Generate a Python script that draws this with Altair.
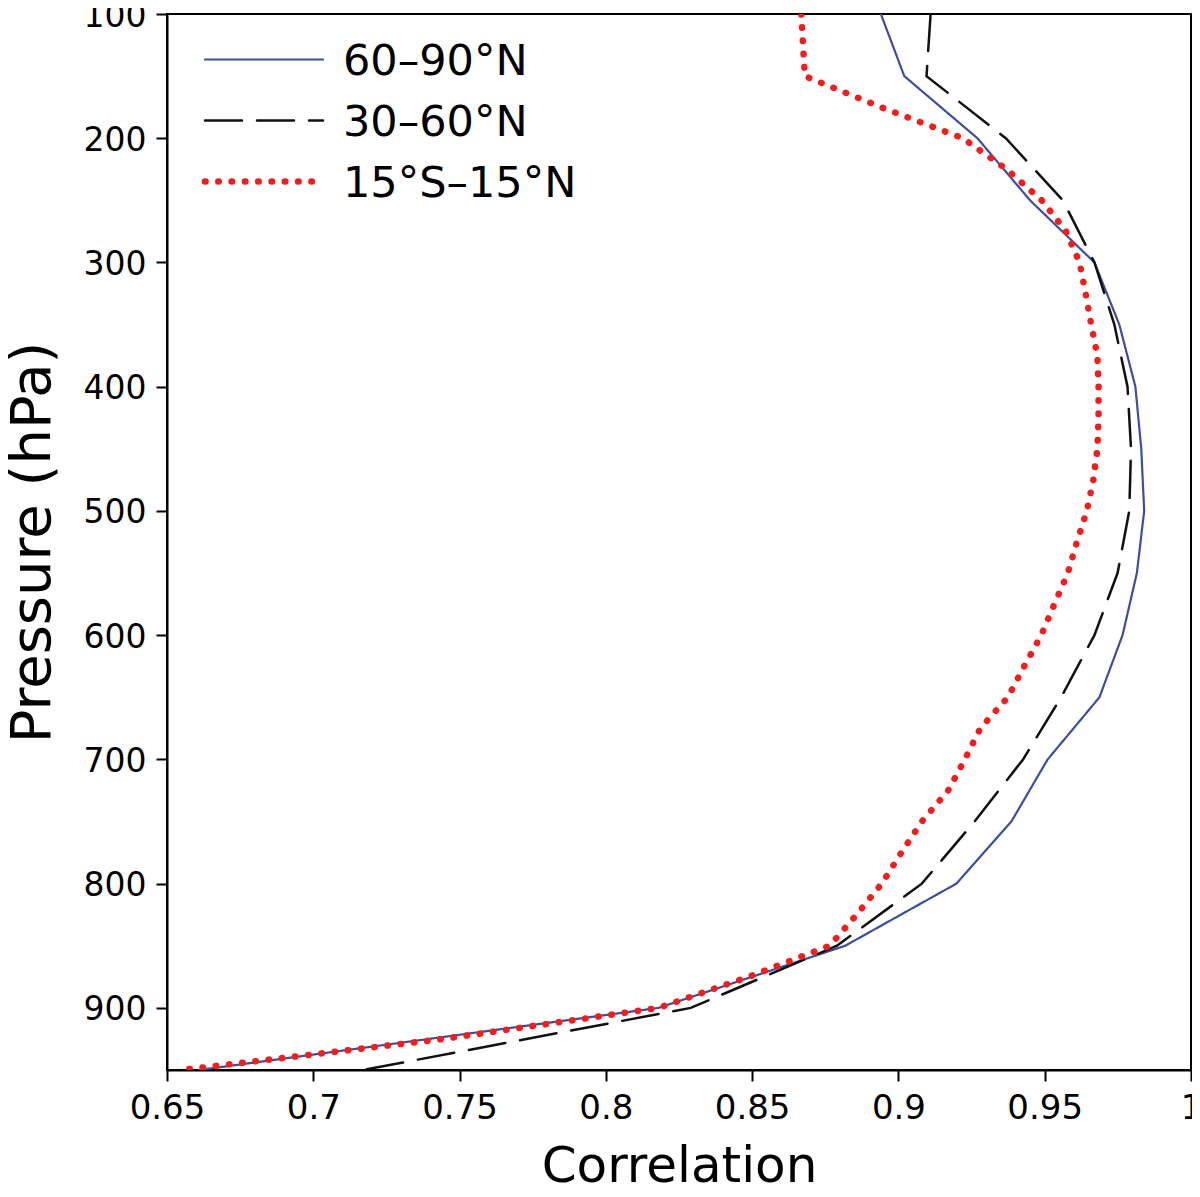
import altair as alt
import pandas as pd

# ---- data ----
series_names = ["60–90°N", "30–60°N", "15°S–15°N"]

levels = [100, 150, 200, 250, 300, 350, 400, 450, 500, 550, 600, 650, 700, 750, 800, 850, 900, 950]
arctic_vals = [0.894, 0.902, 0.927, 0.945, 0.967, 0.9755, 0.981, 0.983, 0.984, 0.9815, 0.9766, 0.9687,
               0.951, 0.9386, 0.9198, 0.8818, 0.818, 0.661]
midlat_vals = [0.911, 0.9096, 0.9367, 0.9562, 0.967, 0.9738, 0.9783, 0.9795, 0.9789, 0.9749, 0.967, 0.9556,
               0.9426, 0.926, 0.908, 0.879, 0.829, 0.717]

trop_levels = [100, 150, 175, 200, 225, 250, 275, 300, 325, 350, 375, 400, 425, 450, 475, 500, 525, 550,
               575, 600, 625, 650, 675, 700, 725, 750, 775, 800, 825, 850, 875, 900, 925, 950]
trop_vals = [0.8668, 0.868, 0.894, 0.922, 0.937, 0.949, 0.9573, 0.9619, 0.964, 0.9659, 0.968, 0.9684,
             0.9684, 0.968, 0.9666, 0.9644, 0.961, 0.9579, 0.9533, 0.9488, 0.943, 0.9374, 0.928, 0.9227,
             0.917, 0.908, 0.901, 0.8943, 0.8857, 0.8765, 0.8488, 0.818, 0.7444, 0.655]

x_ticks = [0.65, 0.7, 0.75, 0.8, 0.85, 0.9, 0.95, 1.0]
y_ticks = [100, 200, 300, 400, 500, 600, 700, 800, 900]

rows = []
for p, v in zip(levels, arctic_vals):
    rows.append({"series": series_names[0], "p": p, "r": v})
for p, v in zip(levels, midlat_vals):
    rows.append({"series": series_names[1], "p": p, "r": v})
for p, v in zip(trop_levels, trop_vals):
    rows.append({"series": series_names[2], "p": p, "r": v})
df = pd.DataFrame(rows)
leg_df = pd.DataFrame({"series": series_names, "row": [0, 1, 2]})

FONT = "DejaVu Sans"

color_scale = alt.Scale(domain=series_names, range=["#3B4FA0", "#111111", "#F51C1C"])
dash_scale = alt.Scale(domain=series_names, range=[[1, 0], [37, 15], [0.5, 12.8]])
width_scale = alt.Scale(type="ordinal", domain=series_names, range=[2.2, 2.5, 6.5])

lines = alt.Chart(df).mark_line(strokeCap="round", clip=True).encode(
    x=alt.X("r:Q", title="Correlation",
            scale=alt.Scale(domain=[0.65, 1.0], nice=False, zero=False),
            axis=alt.Axis(values=x_ticks, format=".2~f", labelFlush=False, titlePadding=16,
                          labelFontSize=34, titleFontSize=50)),
    y=alt.Y("p:Q", title="Pressure (hPa)",
            scale=alt.Scale(domain=[100, 950], reverse=True, nice=False, zero=False),
            axis=alt.Axis(values=y_ticks, labelFlush=False, titlePadding=22, titleFontSize=56,
                          labelFontSize=33, labelOffset=2)),
    order=alt.Order("p:Q"),
    color=alt.Color("series:N", scale=color_scale, legend=None),
    strokeDash=alt.StrokeDash("series:N", scale=dash_scale, legend=None),
    strokeWidth=alt.StrokeWidth("series:N", scale=width_scale, legend=None),
)

leg_y = alt.Y("row:Q", scale=alt.Scale(domain=[0, 2], range=[45.5, 167.5], nice=False, zero=False),
              axis=None)

leg_rules = alt.Chart(leg_df).mark_rule(strokeCap="round").encode(
    x=alt.value(38),
    x2=alt.value(156),
    y=leg_y,
    color=alt.Color("series:N", scale=color_scale, legend=None),
    strokeDash=alt.StrokeDash("series:N", scale=dash_scale, legend=None),
    strokeWidth=alt.StrokeWidth("series:N", scale=width_scale, legend=None),
)

leg_text = alt.Chart(leg_df).mark_text(
    align="left", baseline="middle", fontSize=43, font=FONT, color="black", dy=2
).encode(
    x=alt.value(176),
    y=leg_y,
    text="series:N",
)

chart = alt.layer(lines, leg_rules, leg_text).resolve_scale(
    y="independent"
).properties(
    width=1024,
    height=1056,
    autosize=alt.AutoSizeParams(type="none"),
    padding={"left": 159, "top": 6, "right": 1, "bottom": 119},
).configure_view(
    stroke="black", strokeWidth=2
).configure_axis(
    grid=False,
    domainColor="black", domainWidth=2,
    tickColor="black", tickWidth=2, tickSize=11,
    labelFont=FONT, labelColor="black", labelPadding=10,
    titleFont=FONT, titleFontWeight="normal", titleColor="black",
)

chart.save("out.html", embed_options={"renderer": "svg", "actions": False})
